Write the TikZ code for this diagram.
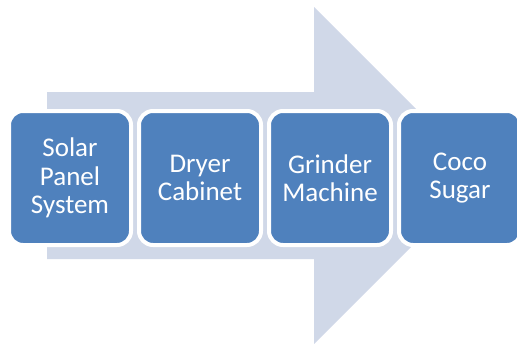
\documentclass[tikz,border=0pt]{standalone}
\usepackage{fontspec}
\setmainfont{Carlito}
\usetikzlibrary{positioning}
\definecolor{stageblue}{RGB}{79,129,189}
\definecolor{flowgray}{RGB}{208,216,232}
\tikzset{stage/.style={rectangle,rounded corners=14pt,fill=stageblue,draw=white,line width=4pt,
  minimum width=122pt,minimum height=134pt,inner sep=0pt,outer sep=0pt,align=center,text=white,
  font=\fontsize{27}{28.5}\selectfont}}

\begin{document}
\begin{tikzpicture}[x=1pt,y=-1pt,node distance=8pt]
\useasboundingbox (0,0) rectangle (517,343);
\clip (0,0) rectangle (517,343);
% big background arrow
\fill[flowgray] (47,92) -- (314,92) -- (314,7) -- (482.5,175.5) -- (314,344) -- (314,259) -- (47,259) -- cycle;
% process stages
\node[stage] (solar) at (70,178) {Solar\\Panel\\System};
\node[stage,right=of solar] (dryer) {Dryer\\Cabinet};
\node[stage,right=of dryer] (grinder) {Grinder\\Machine};
\node[stage,right=of grinder] (sugar) {Coco\\Sugar};
\end{tikzpicture}
\end{document}
